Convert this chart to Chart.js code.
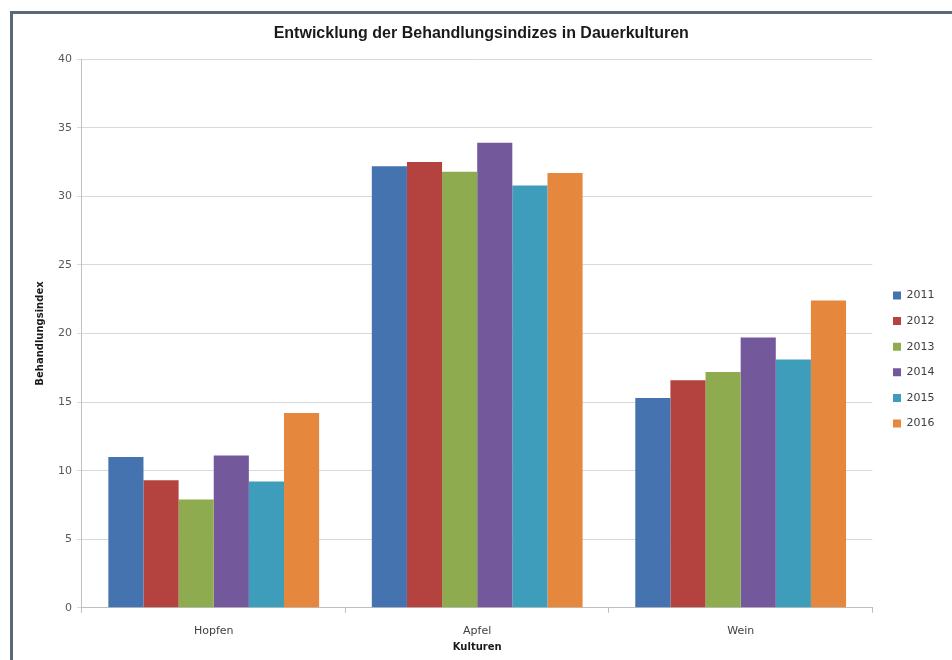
<!DOCTYPE html>
<html>
<head>
<meta charset="utf-8">
<script src="https://cdn.jsdelivr.net/npm/chart.js@4.4.1/dist/chart.umd.min.js"></script>
<style>
  html, body { margin: 0; padding: 0; background: #fff; }
  #frame {
    position: absolute; left: 10px; top: 11px; width: 960px; height: 660px;
    border-left: 3px solid #5b6876; border-top: 3px solid #5b6876;
  }
  #wrap { position: absolute; left: 0; top: 0; width: 952px; height: 660px; }
</style>
</head>
<body>
<div id="frame"></div>
<div id="wrap"><canvas id="chart"></canvas></div>
<script>
const categories = ['Hopfen', 'Apfel', 'Wein'];
const years = ['2011', '2012', '2013', '2014', '2015', '2016'];

// Behandlungsindex je Kultur (Hopfen, Apfel, Wein)
const idx2011 = [11.0, 32.2, 15.3];
const idx2012 = [9.3, 32.5, 16.6];
const idx2013 = [7.9, 31.8, 17.2];
const idx2014 = [11.1, 33.9, 19.7];
const idx2015 = [9.2, 30.8, 18.1];
const idx2016 = [14.2, 31.7, 22.4];

const yTicks = [0, 5, 10, 15, 20, 25, 30, 35, 40];

const seriesValues = [idx2011, idx2012, idx2013, idx2014, idx2015, idx2016];
const colors = ['#4473b0', '#b4433f', '#8eac4f', '#74589c', '#3e9dba', '#e5883d'];

const titleFont = '"Liberation Sans", Arial, sans-serif';
const labelFont = '"DejaVu Sans", sans-serif';

// moves the legend a bit down/right like the original Excel layout
const legendShift = {
  id: 'legendShift',
  afterLayout(chart) {
    const lg = chart.legend;
    lg.top += 24; lg.bottom += 24;
    lg.left += 6; lg.right += 6;
  }
};

new Chart(document.getElementById('chart'), {
  type: 'bar',
  data: {
    labels: categories,
    datasets: years.map((y, i) => ({
      label: y,
      data: seriesValues[i],
      backgroundColor: colors[i],
      borderWidth: 0,
      categoryPercentage: 0.8,
      barPercentage: 1.0
    }))
  },
  options: {
    responsive: true,
    maintainAspectRatio: false,
    animation: false,
    layout: { padding: { top: 14, left: 24, right: 13.5, bottom: 3 } },
    plugins: {
      title: {
        display: true,
        text: 'Entwicklung der Behandlungsindizes in Dauerkulturen',
        color: '#1a1a1a',
        font: { family: titleFont, size: 16, weight: 'bold' },
        padding: { top: 10, bottom: 16 }
      },
      legend: {
        position: 'right',
        labels: {
          boxWidth: 8,
          boxHeight: 8,
          padding: 14.6,
          color: '#404040',
          font: { family: labelFont, size: 11 }
        }
      },
      tooltip: { enabled: false }
    },
    scales: {
      x: {
        grid: {
          offset: true,
          drawOnChartArea: false,
          drawTicks: true,
          tickLength: 5,
          color: '#bfbfbf'
        },
        border: { color: '#bfbfbf' },
        ticks: { color: '#404040', padding: 12, font: { family: labelFont, size: 11 } },
        title: {
          display: true,
          text: 'Kulturen',
          color: '#1a1a1a',
          font: { family: labelFont, size: 10, weight: 'bold' },
          padding: { top: -9, bottom: 4 }
        }
      },
      y: {
        min: 0,
        max: 40,
        afterBuildTicks(scale) {
          scale.ticks = yTicks.map(v => ({ value: v }));
        },
        grid: { color: '#d9d9d9', tickLength: 5 },
        border: { color: '#bfbfbf' },
        ticks: { color: '#595959', padding: 5, font: { family: labelFont, size: 11 } },
        title: {
          display: true,
          text: 'Behandlungsindex',
          color: '#1a1a1a',
          font: { family: labelFont, size: 10, weight: 'bold' },
          padding: { top: 10, bottom: 7 }
        }
      }
    }
  },
  plugins: [legendShift]
});
</script>
</body>
</html>
